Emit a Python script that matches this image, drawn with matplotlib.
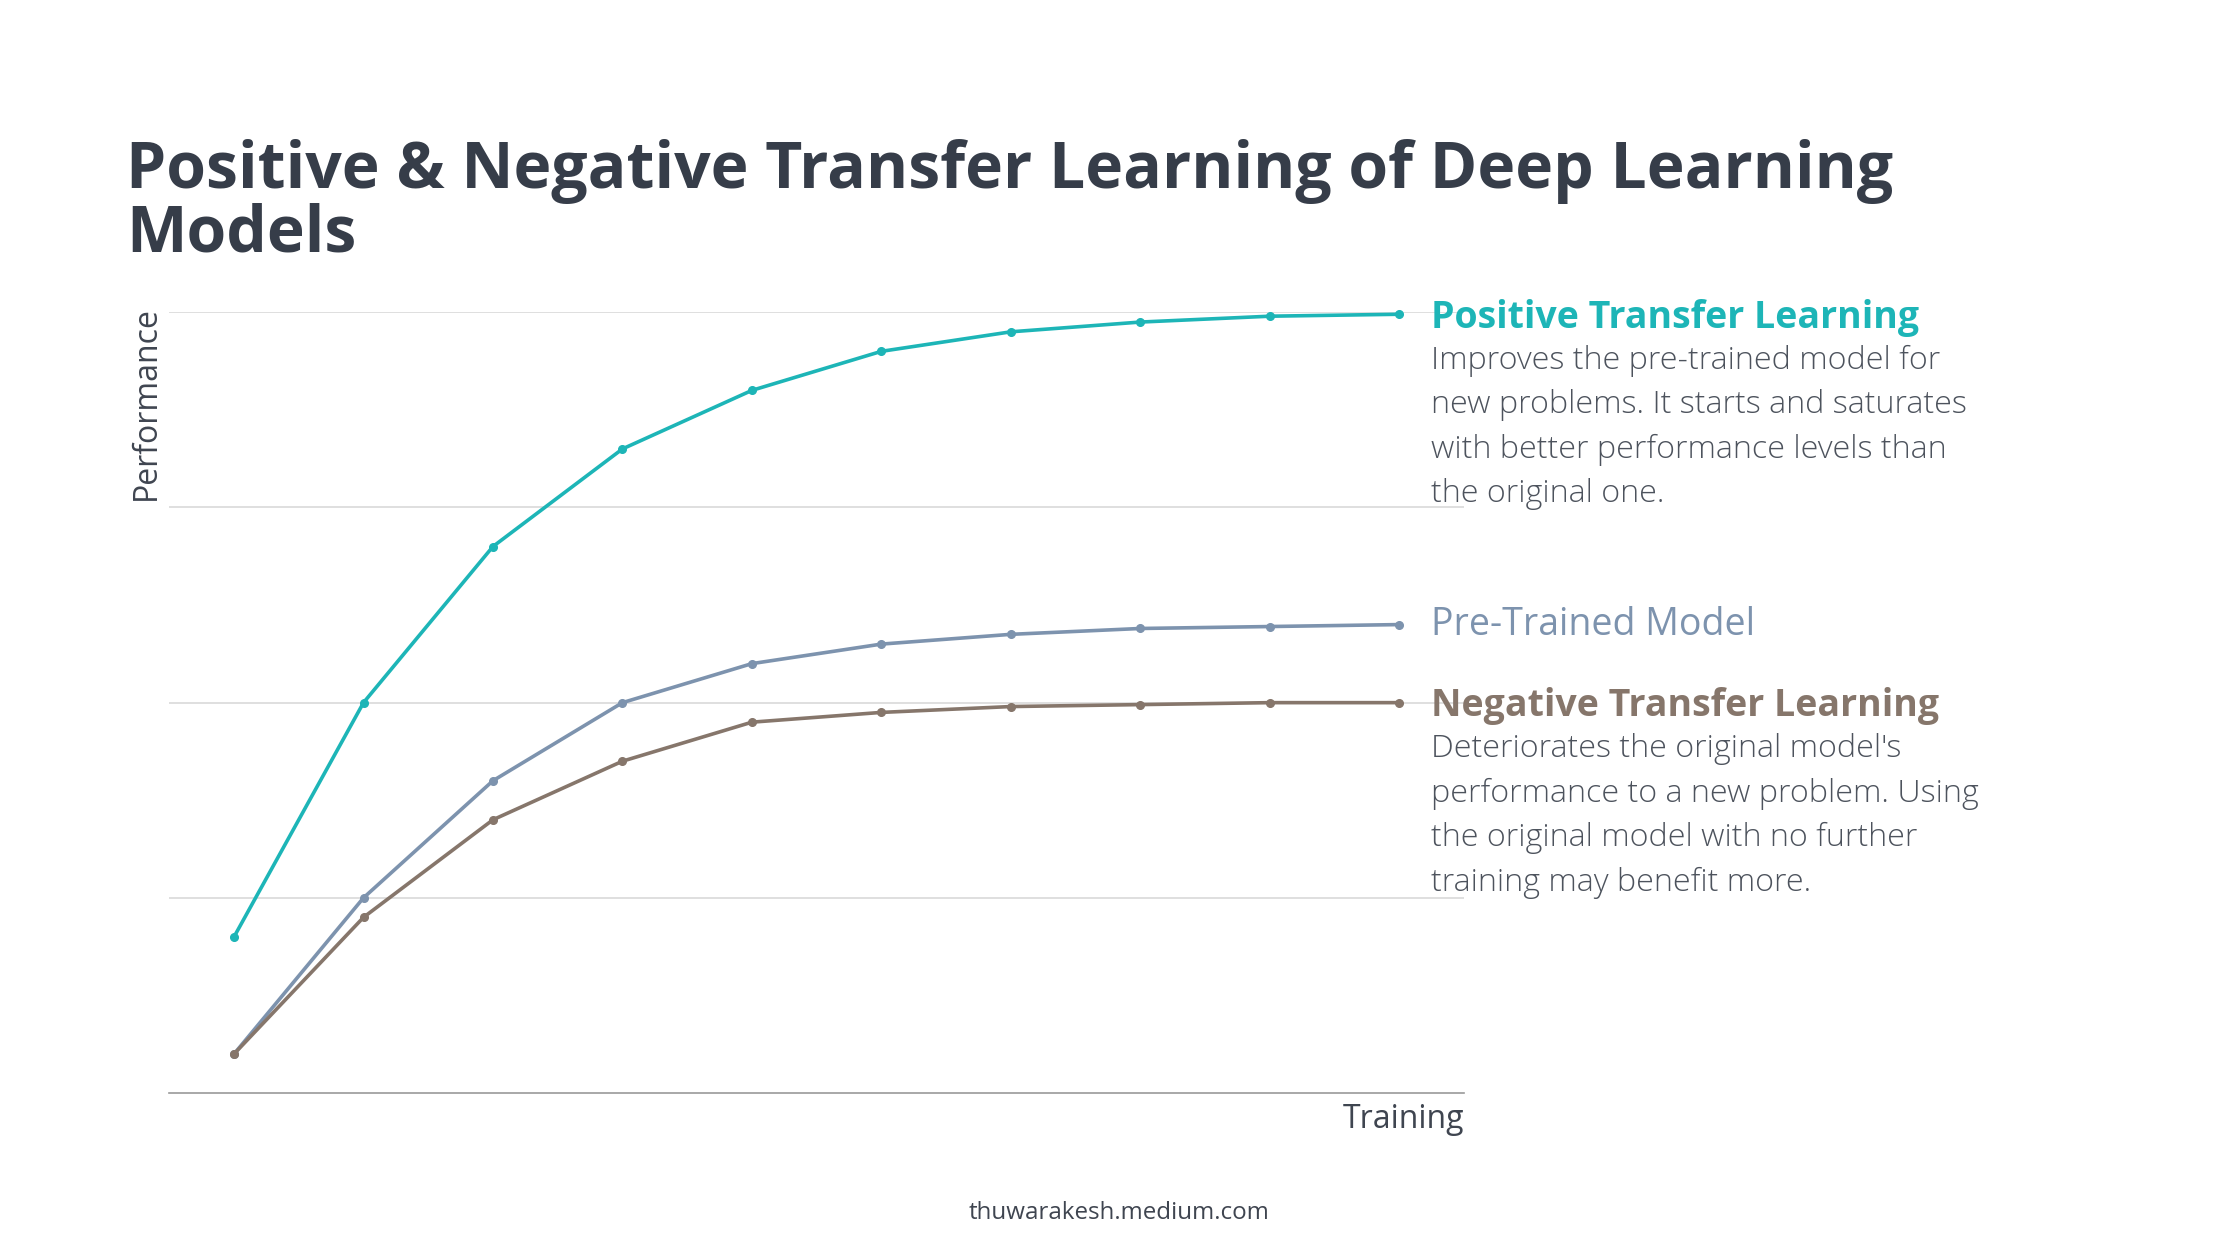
import matplotlib
matplotlib.use("Agg")
import matplotlib.pyplot as plt

# ---- data ----
steps = list(range(10))
positive = [0.80, 2.00, 2.80, 3.30, 3.60, 3.80, 3.90, 3.95, 3.98, 3.99]
pretrained = [0.20, 1.00, 1.60, 2.00, 2.20, 2.30, 2.35, 2.38, 2.39, 2.40]
negative = [0.20, 0.90, 1.40, 1.70, 1.90, 1.95, 1.98, 1.99, 2.00, 2.00]

title_lines = ["Positive & Negative Transfer Learning of Deep Learning", "Models"]
pos_head = "Positive Transfer Learning"
pos_body = ["Improves the pre-trained model for",
            "new problems. It starts and saturates",
            "with better performance levels than",
            "the original one."]
pre_head = "Pre-Trained Model"
neg_head = "Negative Transfer Learning"
neg_body = ["Deteriorates the original model's",
            "performance to a new problem. Using",
            "the original model with no further",
            "training may benefit more."]

C_POS = "#1db5b7"
C_PRE = "#7d93ae"
C_NEG = "#86766b"
C_TITLE = "#363d49"
C_BODY = "#3f4550"
C_BODY_LIGHT = "#4d535d"

plt.rcParams['font.family'] = ['Open Sans', 'DejaVu Sans']

W, H = 2240, 1260
fig = plt.figure(figsize=(22.4, 12.6), dpi=100)
fig.patch.set_facecolor("white")
ax_l, ax_r, ax_t, ax_b = 169.3, 1464, 312.3, 1093
ax = fig.add_axes([ax_l / W, 1 - ax_b / H, (ax_r - ax_l) / W, (ax_b - ax_t) / H])

for s in ["top", "right", "left"]:
    ax.spines[s].set_visible(False)
ax.spines["bottom"].set_color("#9a9a9a")
ax.spines["bottom"].set_linewidth(1.2)
ax.set_xlim(-0.5, 9.5)
ax.set_ylim(0, 4)
ax.set_yticks([1, 2, 3, 4])
ax.set_xticks([])
ax.tick_params(axis="y", length=0, labelleft=False)
ax.grid(axis="y", color="#d9d9d9", linewidth=1.2)
ax.set_axisbelow(True)

for vals, col in [(positive, C_POS), (pretrained, C_PRE), (negative, C_NEG)]:
    ax.plot(steps, vals, color=col, linewidth=2.6, marker="o", markersize=5.5,
            clip_on=False, zorder=3)

dx = 32
head_dy = -3.5
body_dy = -54.5
ax.annotate(pos_head, xy=(steps[-1], positive[-1]), xytext=(dx, head_dy),
            textcoords="offset pixels", va="center", ha="left",
            fontsize=27, fontweight="bold", color=C_POS, annotation_clip=False)
for i, line in enumerate(pos_body):
    ax.annotate(line, xy=(steps[-1], positive[-1]), xytext=(dx, body_dy - 44.5 * i),
                textcoords="offset pixels", va="baseline", ha="left",
                fontsize=23.2, fontweight="light", color=C_BODY_LIGHT,
                annotation_clip=False)

ax.annotate(pre_head, xy=(steps[-1], pretrained[-1]), xytext=(dx, 3 + head_dy),
            textcoords="offset pixels", va="center", ha="left",
            fontsize=27, color=C_PRE, annotation_clip=False)

ax.annotate(neg_head, xy=(steps[-1], negative[-1]), xytext=(dx, head_dy),
            textcoords="offset pixels", va="center", ha="left",
            fontsize=27, fontweight="bold", color=C_NEG, annotation_clip=False)
for i, line in enumerate(neg_body):
    ax.annotate(line, xy=(steps[-1], negative[-1]), xytext=(dx, body_dy - 44.5 * i),
                textcoords="offset pixels", va="baseline", ha="left",
                fontsize=23.2, fontweight="light", color=C_BODY_LIGHT,
                annotation_clip=False)

# axis labels
fig.text(146.5 / W, 1 - 306 / H, "Performance", rotation=90,
         ha="center", va="top", fontsize=23, color=C_BODY)
fig.text(ax_r / W, 1 - 1119 / H, "Training", ha="right", va="center",
         fontsize=23, color=C_BODY)

# title
fig.text(126 / W, 1 - 188 / H, title_lines[0], ha="left", va="baseline",
         fontsize=46.3, fontweight="bold", color=C_TITLE)
fig.text(126 / W, 1 - 252 / H, title_lines[1], ha="left", va="baseline",
         fontsize=46.3, fontweight="bold", color=C_TITLE)

fig.text(1119 / W, 1 - 1213 / H, "thuwarakesh.medium.com", ha="center",
         va="center", fontsize=17.4, color=C_BODY)

fig.savefig("out.png", dpi=100, facecolor="white")
